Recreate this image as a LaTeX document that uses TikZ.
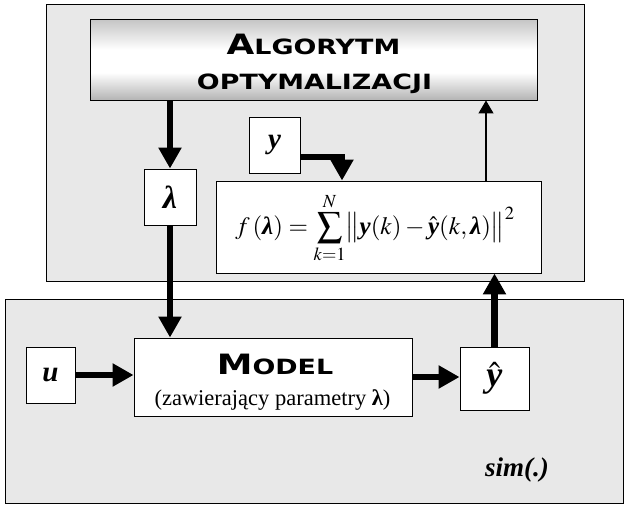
\documentclass[tikz,border=0pt]{standalone}
\usepackage{amsmath}
\usepackage{mathptmx}
\usepackage{fontspec}
\setmainfont{Liberation Serif}
\newfontfamily\capsfont{DejaVu Sans}[FakeStretch=1.28]
\usetikzlibrary{arrows.meta}
\definecolor{panel}{RGB}{232,232,232}
\definecolor{shtop}{RGB}{196,196,196}
\definecolor{shbot}{RGB}{180,180,180}
\pgfdeclareverticalshading{algoshade}{100bp}{color(0bp)=(shbot); color(25bp)=(shbot); color(42bp)=(white); color(56bp)=(white); color(75bp)=(shtop); color(100bp)=(shtop)}
\newcommand\hdcaps[2]{{\capsfont\bfseries\fontsize{28}{28}\selectfont #1\fontsize{21}{21}\selectfont #2}}
\newcommand\bi[1]{\textbf{\textit{#1}}}
\begin{document}
\begin{tikzpicture}[x=1pt,y=-1pt,
  box/.style={draw=black,line width=0.9pt,fill=white,inner sep=0pt},
  panelbox/.style={draw=black,line width=0.9pt,fill=panel,inner sep=0pt},
  thickarrow/.style={line width=6.5pt,-{Triangle[length=21pt,width=22pt]}},
  thinarrow/.style={line width=1.2pt,-{Triangle[length=13pt,width=15pt]}}]
\useasboundingbox (0,0) rectangle (630,514);
% panels
\node[panelbox, minimum width=538pt, minimum height=277pt] (optpanel) at (315,142.5) {};
\node[panelbox, minimum width=618pt, minimum height=204pt] (simpanel) at (314,401) {};
% optimisation algorithm
\node[box, minimum width=447pt, minimum height=81pt, shading=algoshade] (algo) at (313.5,59.5) {};
\node[anchor=base] (algo1) at (313.5,54) {\hdcaps{A}{LGORYTM}};
\node[anchor=base] (algo2) at (314.5,89) {\hdcaps{}{OPTYMALIZACJI}};
% lambda, y, objective
\node[box, minimum width=52pt, minimum height=56pt] (lam) at (170,197) {\fontsize{32}{32}\selectfont\bi{λ}};
\node[box, minimum width=51pt, minimum height=56pt] (ybox) at (274.5,145) {\fontsize{29}{29}\selectfont\bi{y}};
\node[box, minimum width=325pt, minimum height=92pt] (fbox) at (378.5,227) {};
\node[anchor=base] (formula) at (375,234) {\fontsize{25}{29}\selectfont $\displaystyle f\,(\mbox{\bi{λ}}) = \sum_{k=1}^{N}\!\big\|\mbox{\bi{y}}(k) - \hat{\mbox{\bi{y}}}(k,\mbox{\bi{λ}})\big\|^{2}$};
% simulation part
\node[box, minimum width=49pt, minimum height=56pt] (u) at (50.5,375) {\fontsize{29}{29}\selectfont\bi{u}};
\node[box, minimum width=278pt, minimum height=78pt] (model) at (273,377) {};
\node[anchor=base] (modelt) at (275,374) {\hdcaps{M}{ODEL}};
\node[anchor=base] (models) at (272.5,405) {\fontsize{22.5}{26}\selectfont (zawierający parametry \textbf{λ})};
\node[box, minimum width=69pt, minimum height=63pt] (yhat) at (494.5,378.5) {\fontsize{36}{36}\selectfont$\hat{\mbox{\bi{y}}}$};
\node (sim) at (517,470) {\fontsize{27}{27}\selectfont\bi{sim(.)}};
% connectors
\draw[thickarrow] (algo.south -| lam) -- (lam.north);
\draw[thickarrow] (lam.south) -- (lam.south |- model.north);
\coordinate (ycorner) at (342,157);
\draw[thickarrow] (ybox.east |- ycorner) -- (ycorner) -- (ycorner |- fbox.north);
\coordinate (fup) at (486,181);
\draw[thinarrow] (fbox.north -| fup) -- (algo.south -| fup);
\draw[thickarrow] (u.east) -- (u.east -| model.west);
\draw[thickarrow] (model.east) -- (model.east -| yhat.west);
\draw[thickarrow] (yhat.north) -- (yhat.north |- fbox.south);
\end{tikzpicture}
\end{document}
